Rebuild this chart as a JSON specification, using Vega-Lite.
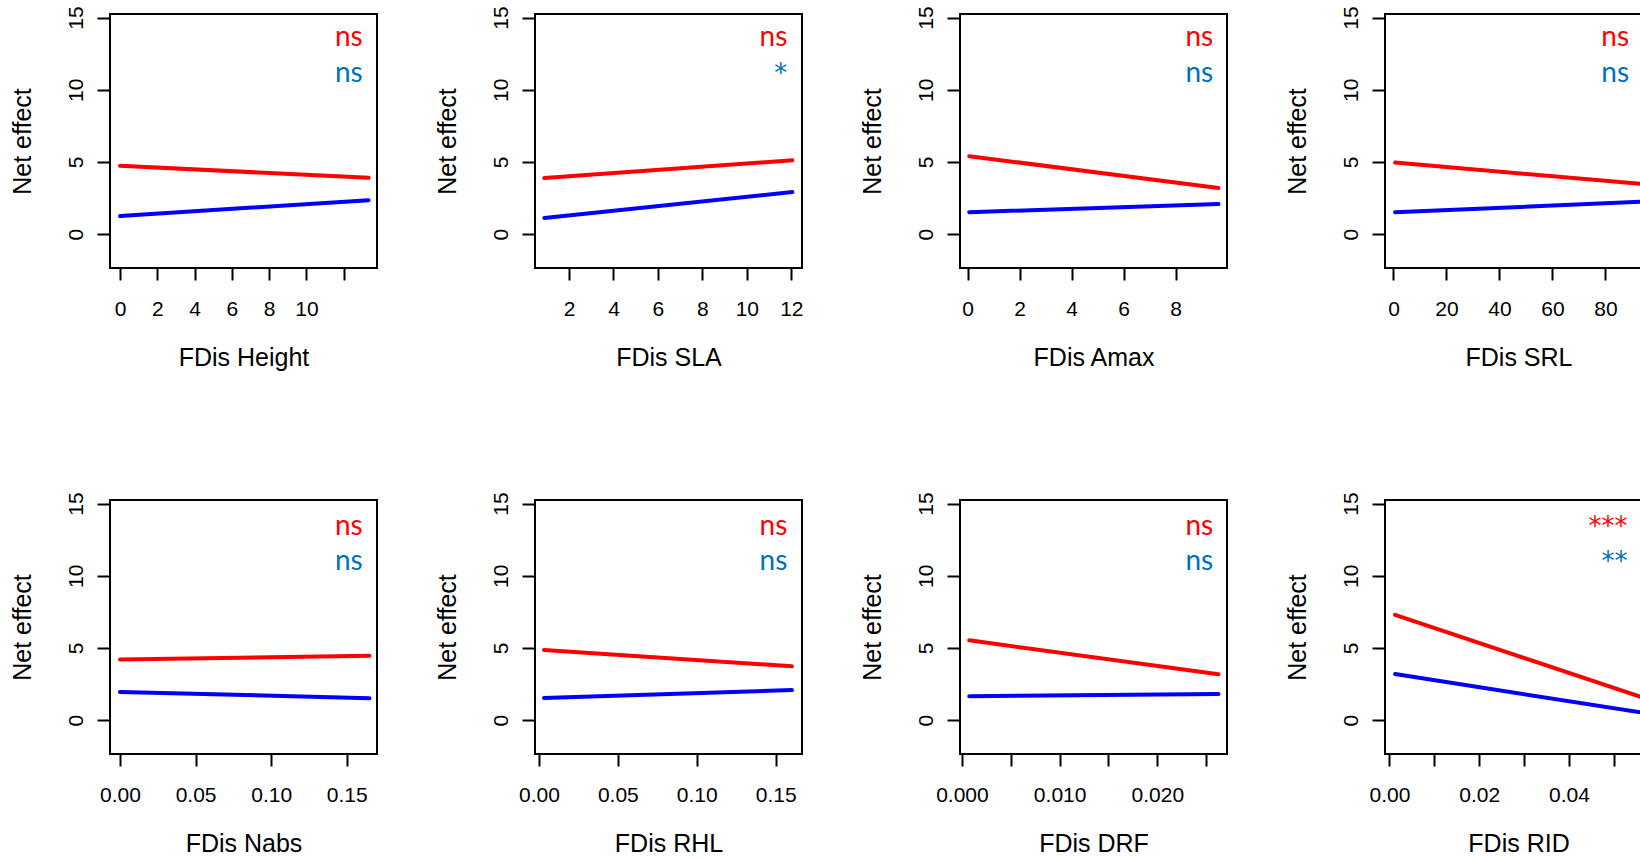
{
  "$schema": "https://vega.github.io/schema/vega-lite/v6.json",
  "background": "white",
  "padding": {"left": 9, "top": 4, "right": 0, "bottom": 0},
  "columns": 4,
  "spacing": {"row": 232, "column": 158},
  "bounds": "flush",
  "datasets": {
    "curves": [
      {"panel": "Height", "series": "s1", "x": 0, "y": 4.73},
      {"panel": "Height", "series": "s1", "x": 13.34, "y": 3.9},
      {"panel": "Height", "series": "s2", "x": 0, "y": 1.25},
      {"panel": "Height", "series": "s2", "x": 13.34, "y": 2.35},
      {"panel": "SLA", "series": "s1", "x": 0.89, "y": 3.88},
      {"panel": "SLA", "series": "s1", "x": 12.05, "y": 5.12},
      {"panel": "SLA", "series": "s2", "x": 0.89, "y": 1.11},
      {"panel": "SLA", "series": "s2", "x": 12.05, "y": 2.91},
      {"panel": "Amax", "series": "s1", "x": 0.065, "y": 5.4},
      {"panel": "Amax", "series": "s1", "x": 9.65, "y": 3.19},
      {"panel": "Amax", "series": "s2", "x": 0.065, "y": 1.52},
      {"panel": "Amax", "series": "s2", "x": 9.65, "y": 2.08},
      {"panel": "SRL", "series": "s1", "x": 0.6, "y": 4.96},
      {"panel": "SRL", "series": "s1", "x": 95, "y": 3.45},
      {"panel": "SRL", "series": "s2", "x": 0.6, "y": 1.52},
      {"panel": "SRL", "series": "s2", "x": 95, "y": 2.25},
      {"panel": "Nabs", "series": "s1", "x": 0, "y": 4.2},
      {"panel": "Nabs", "series": "s1", "x": 0.165, "y": 4.45},
      {"panel": "Nabs", "series": "s2", "x": 0, "y": 1.95},
      {"panel": "Nabs", "series": "s2", "x": 0.165, "y": 1.52},
      {"panel": "RHL", "series": "s1", "x": 0.0032, "y": 4.86},
      {"panel": "RHL", "series": "s1", "x": 0.1603, "y": 3.73},
      {"panel": "RHL", "series": "s2", "x": 0.0032, "y": 1.53},
      {"panel": "RHL", "series": "s2", "x": 0.1603, "y": 2.08},
      {"panel": "DRF", "series": "s1", "x": 0.00075, "y": 5.53},
      {"panel": "DRF", "series": "s1", "x": 0.02626, "y": 3.17},
      {"panel": "DRF", "series": "s2", "x": 0.00075, "y": 1.66},
      {"panel": "DRF", "series": "s2", "x": 0.02626, "y": 1.8},
      {"panel": "RID", "series": "s1", "x": 0.00125, "y": 7.29},
      {"panel": "RID", "series": "s1", "x": 0.0565, "y": 1.56},
      {"panel": "RID", "series": "s2", "x": 0.00125, "y": 3.19},
      {"panel": "RID", "series": "s2", "x": 0.0565, "y": 0.51}
    ],
    "labels": [
      {"panel": "Height", "series": "s1", "x": 13.02, "y": 13.0, "text": "ns"},
      {"panel": "Height", "series": "s2", "x": 13.02, "y": 10.56, "text": "ns"},
      {"panel": "SLA", "series": "s1", "x": 11.82, "y": 13.0, "text": "ns"},
      {"panel": "SLA", "series": "s2", "x": 11.82, "y": 10.56, "text": "*"},
      {"panel": "Amax", "series": "s1", "x": 9.45, "y": 13.0, "text": "ns"},
      {"panel": "Amax", "series": "s2", "x": 9.45, "y": 10.56, "text": "ns"},
      {"panel": "SRL", "series": "s1", "x": 88.9, "y": 13.0, "text": "ns"},
      {"panel": "SRL", "series": "s2", "x": 88.9, "y": 10.56, "text": "ns"},
      {"panel": "Nabs", "series": "s1", "x": 0.1605, "y": 12.85, "text": "ns"},
      {"panel": "Nabs", "series": "s2", "x": 0.1605, "y": 10.38, "text": "ns"},
      {"panel": "RHL", "series": "s1", "x": 0.1574, "y": 12.85, "text": "ns"},
      {"panel": "RHL", "series": "s2", "x": 0.1574, "y": 10.38, "text": "ns"},
      {"panel": "DRF", "series": "s1", "x": 0.02572, "y": 12.85, "text": "ns"},
      {"panel": "DRF", "series": "s2", "x": 0.02572, "y": 10.38, "text": "ns"},
      {"panel": "RID", "series": "s1", "x": 0.05305, "y": 12.85, "text": "***"},
      {"panel": "RID", "series": "s2", "x": 0.05305, "y": 10.38, "text": "**"}
    ]
  },
  "concat": [
    {
      "width": 267, "height": 254,
      "layer": [
        {"data": {"name": "curves"}, "transform": [{"filter": "datum.panel == 'Height'"}],
         "mark": {"type": "line", "strokeWidth": 4, "strokeCap": "round"},
         "encoding": {
           "x": {"field": "x", "type": "quantitative", "scale": {"domain": [-0.54, 13.79], "nice": false, "zero": false}, "axis": {"title": "FDis Height", "values": [0, 2, 4, 6, 8, 10, 12], "labelExpr": "datum.value == 12 ? '' : datum.label"}},
           "y": {"field": "y", "type": "quantitative", "scale": {"domain": [-2.35, 15.25], "nice": false, "zero": false}, "axis": {"title": "Net effect", "values": [0, 5, 10, 15]}},
           "color": {"field": "series", "type": "nominal", "scale": {"domain": ["s1", "s2"], "range": ["#ff0000", "#0000ff"]}, "legend": null}
         }},
        {"data": {"name": "labels"}, "transform": [{"filter": "datum.panel == 'Height'"}],
         "mark": {"type": "text", "align": "right", "baseline": "alphabetic", "font": "Lato", "fontSize": 28},
         "encoding": {
           "x": {"field": "x", "type": "quantitative", "scale": {"domain": [-0.54, 13.79], "nice": false, "zero": false}},
           "y": {"field": "y", "type": "quantitative", "scale": {"domain": [-2.35, 15.25], "nice": false, "zero": false}},
           "text": {"field": "text"},
           "color": {"field": "series", "type": "nominal", "scale": {"domain": ["s1", "s2"], "range": ["#ff0000", "#0070c0"]}, "legend": null}
         }}
      ],
      "resolve": {"scale": {"color": "independent"}}
    },
    {
      "width": 267, "height": 254,
      "layer": [
        {"data": {"name": "curves"}, "transform": [{"filter": "datum.panel == 'SLA'"}],
         "mark": {"type": "line", "strokeWidth": 4, "strokeCap": "round"},
         "encoding": {
           "x": {"field": "x", "type": "quantitative", "scale": {"domain": [0.47, 12.48], "nice": false, "zero": false}, "axis": {"title": "FDis SLA", "values": [2, 4, 6, 8, 10, 12]}},
           "y": {"field": "y", "type": "quantitative", "scale": {"domain": [-2.35, 15.25], "nice": false, "zero": false}, "axis": {"title": "Net effect", "values": [0, 5, 10, 15]}},
           "color": {"field": "series", "type": "nominal", "scale": {"domain": ["s1", "s2"], "range": ["#ff0000", "#0000ff"]}, "legend": null}
         }},
        {"data": {"name": "labels"}, "transform": [{"filter": "datum.panel == 'SLA' && datum.text == 'ns'"}],
         "mark": {"type": "text", "align": "right", "baseline": "alphabetic", "font": "Lato", "fontSize": 28},
         "encoding": {
           "x": {"field": "x", "type": "quantitative", "scale": {"domain": [0.47, 12.48], "nice": false, "zero": false}},
           "y": {"field": "y", "type": "quantitative", "scale": {"domain": [-2.35, 15.25], "nice": false, "zero": false}},
           "text": {"field": "text"},
           "color": {"field": "series", "type": "nominal", "scale": {"domain": ["s1", "s2"], "range": ["#ff0000", "#0070c0"]}, "legend": null}
         }},
        {"data": {"name": "labels"}, "transform": [{"filter": "datum.panel == 'SLA' && datum.text != 'ns'"}],
         "mark": {"type": "text", "align": "right", "baseline": "alphabetic", "font": "DejaVu Sans", "fontSize": 26},
         "encoding": {
           "x": {"field": "x", "type": "quantitative", "scale": {"domain": [0.47, 12.48], "nice": false, "zero": false}},
           "y": {"field": "y", "type": "quantitative", "scale": {"domain": [-2.35, 15.25], "nice": false, "zero": false}},
           "text": {"field": "text"},
           "color": {"field": "series", "type": "nominal", "scale": {"domain": ["s1", "s2"], "range": ["#ff0000", "#0070c0"]}, "legend": null}
         }}
      ],
      "resolve": {"scale": {"color": "independent"}}
    },
    {
      "width": 267, "height": 254,
      "layer": [
        {"data": {"name": "curves"}, "transform": [{"filter": "datum.panel == 'Amax'"}],
         "mark": {"type": "line", "strokeWidth": 4, "strokeCap": "round"},
         "encoding": {
           "x": {"field": "x", "type": "quantitative", "scale": {"domain": [-0.29, 9.98], "nice": false, "zero": false}, "axis": {"title": "FDis Amax", "values": [0, 2, 4, 6, 8]}},
           "y": {"field": "y", "type": "quantitative", "scale": {"domain": [-2.35, 15.25], "nice": false, "zero": false}, "axis": {"title": "Net effect", "values": [0, 5, 10, 15]}},
           "color": {"field": "series", "type": "nominal", "scale": {"domain": ["s1", "s2"], "range": ["#ff0000", "#0000ff"]}, "legend": null}
         }},
        {"data": {"name": "labels"}, "transform": [{"filter": "datum.panel == 'Amax'"}],
         "mark": {"type": "text", "align": "right", "baseline": "alphabetic", "font": "Lato", "fontSize": 28},
         "encoding": {
           "x": {"field": "x", "type": "quantitative", "scale": {"domain": [-0.29, 9.98], "nice": false, "zero": false}},
           "y": {"field": "y", "type": "quantitative", "scale": {"domain": [-2.35, 15.25], "nice": false, "zero": false}},
           "text": {"field": "text"},
           "color": {"field": "series", "type": "nominal", "scale": {"domain": ["s1", "s2"], "range": ["#ff0000", "#0070c0"]}, "legend": null}
         }}
      ],
      "resolve": {"scale": {"color": "independent"}}
    },
    {
      "width": 267, "height": 254,
      "layer": [
        {"data": {"name": "curves"}, "transform": [{"filter": "datum.panel == 'SRL'"}],
         "mark": {"type": "line", "strokeWidth": 4, "strokeCap": "round"},
         "encoding": {
           "x": {"field": "x", "type": "quantitative", "scale": {"domain": [-3.2, 97.55], "nice": false, "zero": false}, "axis": {"title": "FDis SRL", "values": [0, 20, 40, 60, 80]}},
           "y": {"field": "y", "type": "quantitative", "scale": {"domain": [-2.35, 15.25], "nice": false, "zero": false}, "axis": {"title": "Net effect", "values": [0, 5, 10, 15]}},
           "color": {"field": "series", "type": "nominal", "scale": {"domain": ["s1", "s2"], "range": ["#ff0000", "#0000ff"]}, "legend": null}
         }},
        {"data": {"name": "labels"}, "transform": [{"filter": "datum.panel == 'SRL'"}],
         "mark": {"type": "text", "align": "right", "baseline": "alphabetic", "font": "Lato", "fontSize": 28},
         "encoding": {
           "x": {"field": "x", "type": "quantitative", "scale": {"domain": [-3.2, 97.55], "nice": false, "zero": false}},
           "y": {"field": "y", "type": "quantitative", "scale": {"domain": [-2.35, 15.25], "nice": false, "zero": false}},
           "text": {"field": "text"},
           "color": {"field": "series", "type": "nominal", "scale": {"domain": ["s1", "s2"], "range": ["#ff0000", "#0070c0"]}, "legend": null}
         }}
      ],
      "resolve": {"scale": {"color": "independent"}}
    },
    {
      "width": 267, "height": 254,
      "layer": [
        {"data": {"name": "curves"}, "transform": [{"filter": "datum.panel == 'Nabs'"}],
         "mark": {"type": "line", "strokeWidth": 4, "strokeCap": "round"},
         "encoding": {
           "x": {"field": "x", "type": "quantitative", "scale": {"domain": [-0.0066, 0.17], "nice": false, "zero": false}, "axis": {"title": "FDis Nabs", "values": [0, 0.05, 0.1, 0.15], "format": ".2f"}},
           "y": {"field": "y", "type": "quantitative", "scale": {"domain": [-2.35, 15.25], "nice": false, "zero": false}, "axis": {"title": "Net effect", "values": [0, 5, 10, 15]}},
           "color": {"field": "series", "type": "nominal", "scale": {"domain": ["s1", "s2"], "range": ["#ff0000", "#0000ff"]}, "legend": null}
         }},
        {"data": {"name": "labels"}, "transform": [{"filter": "datum.panel == 'Nabs'"}],
         "mark": {"type": "text", "align": "right", "baseline": "alphabetic", "font": "Lato", "fontSize": 28},
         "encoding": {
           "x": {"field": "x", "type": "quantitative", "scale": {"domain": [-0.0066, 0.17], "nice": false, "zero": false}},
           "y": {"field": "y", "type": "quantitative", "scale": {"domain": [-2.35, 15.25], "nice": false, "zero": false}},
           "text": {"field": "text"},
           "color": {"field": "series", "type": "nominal", "scale": {"domain": ["s1", "s2"], "range": ["#ff0000", "#0070c0"]}, "legend": null}
         }}
      ],
      "resolve": {"scale": {"color": "independent"}}
    },
    {
      "width": 267, "height": 254,
      "layer": [
        {"data": {"name": "curves"}, "transform": [{"filter": "datum.panel == 'RHL'"}],
         "mark": {"type": "line", "strokeWidth": 4, "strokeCap": "round"},
         "encoding": {
           "x": {"field": "x", "type": "quantitative", "scale": {"domain": [-0.0025, 0.1667], "nice": false, "zero": false}, "axis": {"title": "FDis RHL", "values": [0, 0.05, 0.1, 0.15], "format": ".2f"}},
           "y": {"field": "y", "type": "quantitative", "scale": {"domain": [-2.35, 15.25], "nice": false, "zero": false}, "axis": {"title": "Net effect", "values": [0, 5, 10, 15]}},
           "color": {"field": "series", "type": "nominal", "scale": {"domain": ["s1", "s2"], "range": ["#ff0000", "#0000ff"]}, "legend": null}
         }},
        {"data": {"name": "labels"}, "transform": [{"filter": "datum.panel == 'RHL'"}],
         "mark": {"type": "text", "align": "right", "baseline": "alphabetic", "font": "Lato", "fontSize": 28},
         "encoding": {
           "x": {"field": "x", "type": "quantitative", "scale": {"domain": [-0.0025, 0.1667], "nice": false, "zero": false}},
           "y": {"field": "y", "type": "quantitative", "scale": {"domain": [-2.35, 15.25], "nice": false, "zero": false}},
           "text": {"field": "text"},
           "color": {"field": "series", "type": "nominal", "scale": {"domain": ["s1", "s2"], "range": ["#ff0000", "#0070c0"]}, "legend": null}
         }}
      ],
      "resolve": {"scale": {"color": "independent"}}
    },
    {
      "width": 267, "height": 254,
      "layer": [
        {"data": {"name": "curves"}, "transform": [{"filter": "datum.panel == 'DRF'"}],
         "mark": {"type": "line", "strokeWidth": 4, "strokeCap": "round"},
         "encoding": {
           "x": {"field": "x", "type": "quantitative", "scale": {"domain": [-0.0002, 0.02713], "nice": false, "zero": false}, "axis": {"title": "FDis DRF", "values": [0, 0.005, 0.01, 0.015, 0.02, 0.025], "labelExpr": "round(datum.value * 1000) % 10 == 0 ? format(datum.value, '.3f') : ''"}},
           "y": {"field": "y", "type": "quantitative", "scale": {"domain": [-2.35, 15.25], "nice": false, "zero": false}, "axis": {"title": "Net effect", "values": [0, 5, 10, 15]}},
           "color": {"field": "series", "type": "nominal", "scale": {"domain": ["s1", "s2"], "range": ["#ff0000", "#0000ff"]}, "legend": null}
         }},
        {"data": {"name": "labels"}, "transform": [{"filter": "datum.panel == 'DRF'"}],
         "mark": {"type": "text", "align": "right", "baseline": "alphabetic", "font": "Lato", "fontSize": 28},
         "encoding": {
           "x": {"field": "x", "type": "quantitative", "scale": {"domain": [-0.0002, 0.02713], "nice": false, "zero": false}},
           "y": {"field": "y", "type": "quantitative", "scale": {"domain": [-2.35, 15.25], "nice": false, "zero": false}},
           "text": {"field": "text"},
           "color": {"field": "series", "type": "nominal", "scale": {"domain": ["s1", "s2"], "range": ["#ff0000", "#0070c0"]}, "legend": null}
         }}
      ],
      "resolve": {"scale": {"color": "independent"}}
    },
    {
      "width": 267, "height": 254,
      "layer": [
        {"data": {"name": "curves"}, "transform": [{"filter": "datum.panel == 'RID'"}],
         "mark": {"type": "line", "strokeWidth": 4, "strokeCap": "round"},
         "encoding": {
           "x": {"field": "x", "type": "quantitative", "scale": {"domain": [-0.001, 0.0585], "nice": false, "zero": false}, "axis": {"title": "FDis RID", "values": [0, 0.01, 0.02, 0.03, 0.04, 0.05], "labelExpr": "round(datum.value * 100) % 2 == 0 ? format(datum.value, '.2f') : ''"}},
           "y": {"field": "y", "type": "quantitative", "scale": {"domain": [-2.35, 15.25], "nice": false, "zero": false}, "axis": {"title": "Net effect", "values": [0, 5, 10, 15]}},
           "color": {"field": "series", "type": "nominal", "scale": {"domain": ["s1", "s2"], "range": ["#ff0000", "#0000ff"]}, "legend": null}
         }},
        {"data": {"name": "labels"}, "transform": [{"filter": "datum.panel == 'RID'"}],
         "mark": {"type": "text", "align": "right", "baseline": "alphabetic", "font": "DejaVu Sans", "fontSize": 26},
         "encoding": {
           "x": {"field": "x", "type": "quantitative", "scale": {"domain": [-0.001, 0.0585], "nice": false, "zero": false}},
           "y": {"field": "y", "type": "quantitative", "scale": {"domain": [-2.35, 15.25], "nice": false, "zero": false}},
           "text": {"field": "text"},
           "color": {"field": "series", "type": "nominal", "scale": {"domain": ["s1", "s2"], "range": ["#ff0000", "#0070c0"]}, "legend": null}
         }}
      ],
      "resolve": {"scale": {"color": "independent"}}
    }
  ],
  "config": {
    "view": {"stroke": "#000000", "strokeWidth": 2},
    "font": "Liberation Sans",
    "axis": {
      "domain": false, "grid": false, "ticks": true,
      "tickColor": "#000000", "tickWidth": 2, "tickSize": 12,
      "labelFont": "Liberation Sans", "labelFontSize": 21, "labelColor": "#000000",
      "labelOverlap": false, "labelFlush": false, "labelBound": false,
      "titleFont": "Liberation Sans", "titleFontSize": 25, "titleFontWeight": "normal", "titleColor": "#000000"
    },
    "axisX": {"labelPadding": 18, "labelBaseline": "top", "labelAlign": "center", "labelAngle": 0, "titlePadding": 26},
    "axisY": {"tickSize": 13, "labelAngle": -90, "labelAlign": "center", "labelBaseline": "alphabetic", "labelPadding": 15, "titlePadding": 30}
  }
}
